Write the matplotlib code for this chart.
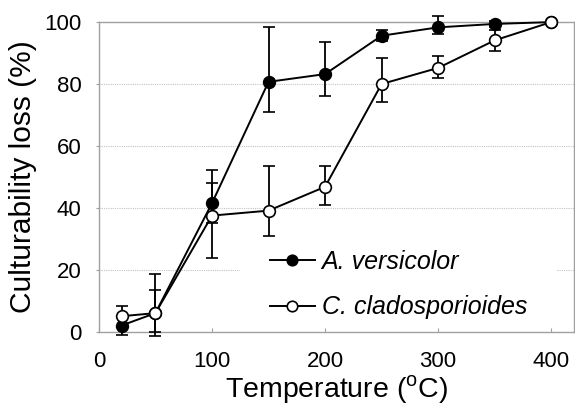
import matplotlib
matplotlib.use("Agg")
import matplotlib.pyplot as plt

plt.rcParams['font.family'] = ['Liberation Sans', 'DejaVu Sans']

# temperatures (deg C)
temps = [20, 50, 100, 150, 200, 250, 300, 350, 400]

# A. versicolor (filled)
av_mean = [2.0, 6.0, 41.5, 80.7, 83.2, 95.6, 98.3, 99.4, 100.0]
av_err_lo = [3.0, 7.5, 6.5, 9.7, 7.1, 1.7, 2.0, 1.0, 0.0]
av_err_hi = [3.0, 7.5, 6.6, 17.8, 10.4, 1.7, 3.7, 1.0, 0.0]

# C. cladosporioides (open)
oc_mean = [5.0, 6.0, 37.5, 39.1, 46.8, 80.0, 85.2, 94.1, 100.0]
oc_err_lo = [3.3, 6.0, 13.8, 8.2, 5.8, 5.9, 3.4, 3.5, 0.0]
oc_err_hi = [3.3, 12.6, 14.7, 14.5, 6.8, 8.5, 3.9, 3.5, 0.0]

labels = ['A. versicolor', 'C. cladosporioides']
xticks = [0, 100, 200, 300, 400]
yticks = [0, 20, 40, 60, 80, 100]

fig, ax = plt.subplots(figsize=(5.75, 4.09), dpi=100)
fig.subplots_adjust(left=0.172, right=0.998, top=0.946, bottom=0.189)

# dotted grid, drawn by hand so the legend box can hide part of it
for y in yticks[1:-1]:
    ax.axhline(y, color='#c4c4c4', lw=0.8, ls=(0, (1, 1)), zorder=1)

style = dict(color='black', lw=1.4, ms=8.4, mew=1.2, elinewidth=1.3,
             capsize=4.4, capthick=1.3, clip_on=False)
eb1 = ax.errorbar(temps, av_mean, yerr=[av_err_lo, av_err_hi], fmt='o-',
                  mfc='black', mec='black', zorder=3, **style)
eb2 = ax.errorbar(temps, oc_mean, yerr=[oc_err_lo, oc_err_hi], fmt='o-',
                  mfc='white', mec='black', zorder=4, **style)

ax.set_xlim(0, 420)
ax.set_ylim(0, 100)
ax.set_xticks(xticks)
ax.set_yticks(yticks)
ax.set_axisbelow(False)

for sp in ax.spines.values():
    sp.set_color('#a0a0a0')
    sp.set_linewidth(1.0)

ax.tick_params(axis='x', direction='in', length=3, width=0.8, color='#a0a0a0',
               labelsize=16, pad=14)
ax.tick_params(axis='y', direction='out', length=2.5, width=0.8, color='#a0a0a0',
               labelsize=16, pad=10)

ax.set_xlabel(r'Temperature ($^\mathregular{o}$C)', fontsize=20.5, labelpad=1)
ax.set_ylabel('Culturability loss (%)', fontsize=21.5, labelpad=5)

leg = ax.legend([eb1[0], eb2[0]], labels, loc='center left',
                bbox_to_anchor=(0.297, 0.152), borderaxespad=0,
                prop={'style': 'italic', 'size': 18}, frameon=True,
                fancybox=False, facecolor='white', edgecolor='none', framealpha=1,
                borderpad=1.2, handlelength=1.8, handletextpad=0.27,
                labelspacing=0.85, markerscale=0.9)
leg.set_zorder(2)

fig.savefig('out.png', dpi=100)
